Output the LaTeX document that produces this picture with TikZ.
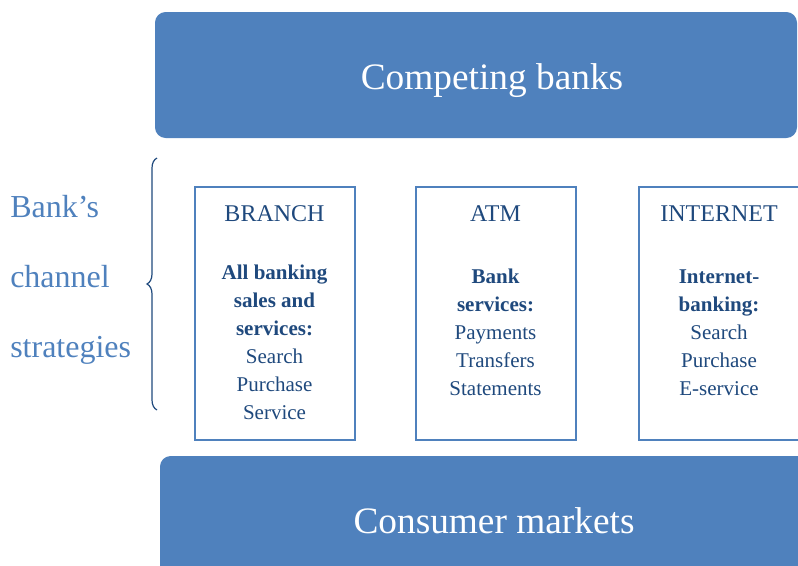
\documentclass[tikz,border=0pt]{standalone}
\usepackage{fontspec}
\setmainfont{Liberation Serif}
\usetikzlibrary{decorations.pathreplacing}
\definecolor{fillblue}{HTML}{4F81BD}
\definecolor{darkblue}{HTML}{1F497D}
\tikzset{
  band/.style={fill=fillblue, draw=none, rounded corners=8pt, inner sep=0pt},
  bandtext/.style={text=white, font=\fontsize{28}{34}\selectfont, anchor=base, inner sep=0pt},
  chanbox/.style={draw=fillblue, line width=1.5pt, fill=white, minimum width=120pt, minimum height=189.75pt, inner sep=0pt},
  chanhead/.style={text=darkblue, font=\fontsize{18}{21}\selectfont, anchor=base, inner sep=0pt},
  chanbody/.style={text=darkblue, font=\fontsize{15.75}{21}\selectfont, align=center, anchor=base, inner sep=0pt},
  sidetext/.style={text=fillblue, font=\fontsize{24}{28}\selectfont, anchor=base west, inner sep=0pt},
}
\begin{document}
\begin{tikzpicture}[x=0.75pt,y=-0.75pt]
\useasboundingbox (0,0) rectangle (798,565);
\clip (0,0) rectangle (798,565);
% bands
\node[band, minimum width=481.5pt, minimum height=94.5pt] (top) at (476,75) {};
\node[bandtext] (toptext) at (492,89) {Competing banks};
\node[band, minimum width=487.5pt, minimum height=100.5pt] (bottom) at (485,523) {};
\node[bandtext] (bottomtext) at (494,533) {Consumer markets};
% channel boxes
\node[chanbox] (branch) at (274.5,313.5) {};
\node[chanbox] (atm) at (495.5,313.5) {};
\node[chanbox] (internet) at (719,313.5) {};
\node[chanhead] (branchhead) at (274.5,221) {BRANCH};
\node[chanhead] (atmhead) at (495.5,221) {ATM};
\node[chanhead] (internethead) at (719,221) {INTERNET};
\node[chanbody] (branchbody) at (274.5,419) {\textbf{All banking}\\\textbf{sales and}\\\textbf{services:}\\Search\\Purchase\\Service};
\node[chanbody] (atmbody) at (495.5,395) {\textbf{Bank}\\\textbf{services:}\\Payments\\Transfers\\Statements};
\node[chanbody] (internetbody) at (719,395) {\textbf{Internet-}\\\textbf{banking:}\\Search\\Purchase\\E-service};
% side label
\node[sidetext] (s1) at (10,217) {Bank’s};
\node[sidetext] (s2) at (10,287) {channel};
\node[sidetext] (s3) at (10,357) {strategies};
% brace
\coordinate (bb) at (157,410);
\coordinate (bt) at (157,158);
\draw[darkblue, line width=0.9pt, decorate, decoration={brace, amplitude=7.5pt}] (bb) -- (bt);
\end{tikzpicture}
\end{document}
